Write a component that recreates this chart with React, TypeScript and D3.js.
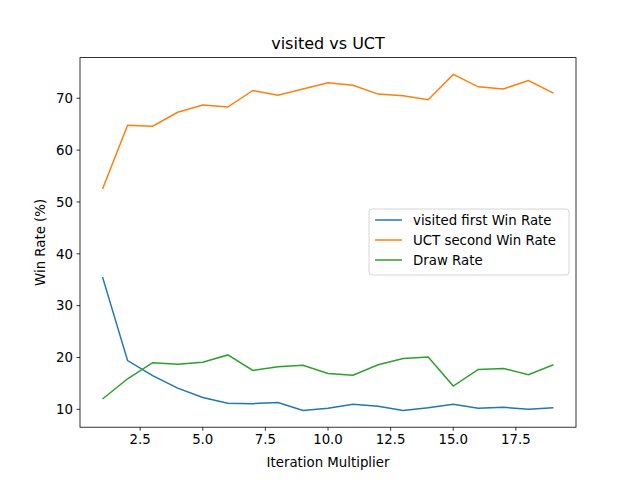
import React from 'react'
import * as d3 from 'd3'

const iterations = d3.range(1, 20)
const visitedWin = [35.5, 19.4, 16.5, 14.1, 12.3, 11.2, 11.1, 11.3, 9.8, 10.2, 11.0, 10.6, 9.8, 10.3, 11.0, 10.2, 10.4, 10.0, 10.3]
const uctWin = [52.5, 64.8, 64.6, 67.3, 68.7, 68.3, 71.5, 70.6, 71.8, 73.0, 72.5, 70.8, 70.5, 69.7, 74.6, 72.2, 71.8, 73.4, 71.0]
const drawRate = [12.0, 15.9, 19.0, 18.7, 19.1, 20.5, 17.5, 18.2, 18.5, 16.9, 16.6, 18.6, 19.8, 20.1, 14.5, 17.7, 17.9, 16.7, 18.6]
const xTicks = [2.5, 5.0, 7.5, 10.0, 12.5, 15.0, 17.5]
const yTicks = [10, 20, 30, 40, 50, 60, 70]

const series = [
    { name: 'visited first Win Rate', values: visitedWin, color: '#1f77b4' },
    { name: 'UCT second Win Rate', values: uctWin, color: '#ff7f0e' },
    { name: 'Draw Rate', values: drawRate, color: '#2ca02c' },
]

const App = () => {
    const W = 640, H = 480
    const L = 80, R = 576, T = 57.6, B = 427.2
    const x = d3.scaleLinear().domain([0.1, 19.9]).range([L, R])
    const y = d3.scaleLinear().domain([6.56, 77.84]).range([B, T])
    const line = d3.line<number>().x((d, i) => x(iterations[i])).y(d => y(d))
    const font = 'DejaVu Sans, sans-serif'

    return (
        <svg width={W} height={H} style={{ position: 'absolute', left: 0, top: 0, background: '#fff' }} fontFamily={font}>
            {series.map(s => (
                <path key={s.name} d={line(s.values) ?? ''} fill="none" stroke={s.color} strokeWidth={1.5} />
            ))}
            <rect x={L} y={T} width={R - L} height={B - T} fill="none" stroke="#000" strokeWidth={0.8} />
            {xTicks.map(t => (
                <g key={t}>
                    <line x1={x(t)} x2={x(t)} y1={B} y2={B + 3.5} stroke="#000" strokeWidth={0.8} />
                    <text x={x(t)} y={B + 17} textAnchor="middle" fontSize={13.33}>{t.toFixed(1)}</text>
                </g>
            ))}
            {yTicks.map(t => (
                <g key={t}>
                    <line x1={L - 3.5} x2={L} y1={y(t)} y2={y(t)} stroke="#000" strokeWidth={0.8} />
                    <text x={L - 7} y={y(t) + 4.8} textAnchor="end" fontSize={13.33}>{t}</text>
                </g>
            ))}
            <text x={(L + R) / 2} y={49} textAnchor="middle" fontSize={16}>visited vs UCT</text>
            <text x={(L + R) / 2} y={467} textAnchor="middle" fontSize={13.33}>Iteration Multiplier</text>
            <text transform={`translate(45,${(T + B) / 2}) rotate(-90)`} textAnchor="middle" fontSize={13.33}>Win Rate (%)</text>
            <g transform="translate(369,209)">
                <rect width={200} height={66} rx={3} fill="#fff" fillOpacity={0.8} stroke="#ccc" strokeWidth={0.8} />
                {series.map((s, i) => (
                    <g key={s.name} transform={`translate(0,${11 + i * 20})`}>
                        <line x1={6} x2={33} y1={0} y2={0} stroke={s.color} strokeWidth={1.5} />
                        <text x={44} y={4.8} fontSize={13.33}>{s.name}</text>
                    </g>
                ))}
            </g>
        </svg>
    )
}

export default App
